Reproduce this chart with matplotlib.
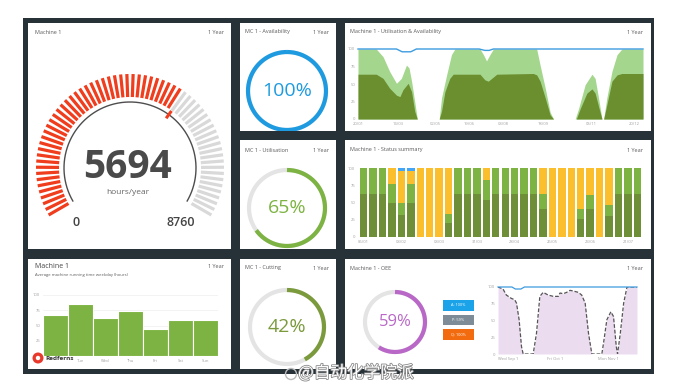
import numpy as np
import matplotlib.pyplot as plt
from matplotlib.patches import Rectangle, Circle
import matplotlib.patheffects as pe

plt.rcParams['font.family'] = ['Open Sans', 'DejaVu Sans']

W, H = 690, 389

# ---- data ----
gauge_value, gauge_max = 5694, 8760
availability, utilisation, cutting, oee = 100, 65, 42, 59

# utilisation & availability over the year (position 0-100, percent)
ua_avail_x = [0, 6.4, 8.8, 11.1, 13.5, 15.2, 17.0, 17.9, 18.8, 19.9, 20.8, 28.5, 29.3, 31.1, 32.8, 34.0,
              42.8, 44.0, 45.1, 46.3, 47.5, 62.7, 63.9, 65.7, 67.4, 68.6, 76.2, 77.4, 79.7, 82.1, 83.2,
              84.4, 85.6, 86.2, 87.3, 89.1, 90.9, 92.6, 100]
ua_avail_y = [100, 100, 89, 68, 51, 58, 77, 73, 54, 25, 0, 0, 30, 63, 92, 100,
              100, 92, 83, 92, 100, 100, 77, 44, 10, 0, 0, 15, 49, 64, 58,
              30, 0, 0, 30, 68, 92, 100, 100]
ua_util_x = [0, 6.4, 8.8, 11.1, 13.5, 14.7, 15.8, 17.6, 18.8, 19.9, 20.8, 28.5, 29.3, 30.5, 32.2, 33.4,
             42.8, 44.5, 45.7, 46.9, 48.7, 61.5, 62.7, 63.9, 65.7, 67.4, 68.6, 76.6, 78.0, 80.3, 82.1,
             83.2, 84.4, 85.6, 86.2, 87.3, 89.1, 90.9, 92.6, 100]
ua_util_y = [64, 64, 58, 44, 34, 32, 42, 51, 39, 11, 0, 0, 11, 39, 58, 64,
             64, 56, 54, 58, 64, 65, 63, 54, 30, 6, 0, 0, 15, 37, 43,
             37, 18, 0, 0, 20, 54, 63, 65, 65]
ua_line_x = [0, 13.5, 15.5, 18.5, 20.5, 42.5, 44.5, 46.0, 47.5, 100]
ua_line_y = [100, 100, 96, 96, 100, 100, 98, 98, 100, 100]
ua_ticks = [0, 14, 27, 39, 51, 65, 82, 97]
ua_labels = ['20/01', '14/03', '02/05', '19/06', '03/08', '18/09', '05/11', '20/12']

# status summary, 30 periods (percent of time)
st_running = [62, 62, 62, 50, 32, 50, 0, 0, 0, 21, 62, 62, 62, 54, 62, 62, 62, 62, 62, 40,
              0, 0, 0, 26, 40, 0, 31, 62, 62, 62]
st_idle = [38, 38, 38, 27, 17, 27, 0, 0, 0, 12, 38, 38, 38, 29, 38, 38, 38, 38, 38, 23,
           0, 0, 0, 15, 21, 0, 16, 38, 38, 38]
st_stopped = [0, 0, 0, 23, 47, 19, 100, 100, 100, 67, 0, 0, 0, 17, 0, 0, 0, 0, 0, 37,
              100, 100, 100, 59, 39, 100, 53, 0, 0, 0]
st_offline = [0, 0, 0, 0, 4, 4, 0, 0, 0, 0, 0, 0, 0, 0, 0, 0, 0, 0, 0, 0,
              0, 0, 0, 0, 0, 0, 0, 0, 0, 0]
st_ticks = [0, 4, 8, 12, 16, 20, 24, 28]
st_labels = ['06/01', '03/02', '03/03', '31/03', '28/04', '26/05', '23/06', '21/07']

# average running time per weekday (first label sits under the logo)
days = ['', 'Tue', 'Wed', 'Thu', 'Fri', 'Sat', 'Sun']
day_running = [68, 85, 62, 73, 45, 59, 59]

# OEE trend
oee_x = [0, 3.6, 6.0, 9.6, 12.0, 13.3, 15.2, 16.9, 18.1, 25.3, 27.7, 30.1, 32.5, 36.1, 39.8, 43.4,
         44.6, 47.0, 49.4, 51.8, 54.2, 57.8, 60.2, 62.7, 65.1, 67.5, 74.7, 75.9, 78.3, 81.2, 83.1,
         85.1, 86.0, 88.0, 90.4, 92.8, 100]
oee_y = [100, 97, 88, 83, 81, 76, 51, 11, 0, 0, 31, 86, 92, 88, 86, 86,
         91, 90, 92, 95, 94, 92, 88, 76, 31, 0, 0, 16, 51, 63, 56,
         11, 0, 31, 76, 100, 100]
oee_line_x = [0, 10, 12.5, 16.5, 19, 100]
oee_line_y = [100, 100, 97, 97, 100, 100]
oee_ticks = [0, 35, 72]
oee_labels = ['Wed Sep 1', 'Fri Oct 1', 'Mon Nov 1']
oee_parts = ['A: 100%', 'P: 59%', 'Q: 100%']

pct_ticks = [0, 25, 50, 75, 100]

FRAME = '#263238'
TITLE = '#5a5a5a'
TICK = '#a0a0a0'

fig = plt.figure(figsize=(6.9, 3.89), dpi=100)
fig.patch.set_facecolor('white')


def rect(x0, y0, x1, y1):
    return [x0 / W, 1 - y1 / H, (x1 - x0) / W, (y1 - y0) / H]


def box(x0, y0, x1, y1, color):
    fig.patches.append(Rectangle((x0 / W, 1 - y1 / H), (x1 - x0) / W, (y1 - y0) / H,
                                 transform=fig.transFigure, facecolor=color,
                                 edgecolor='none', zorder=-5))


def ftext(x, y, s, **kw):
    fig.text(x / W, 1 - y / H, s, **kw)


def pixel_ax(x0, y0, x1, y1):
    ax = fig.add_axes(rect(x0, y0, x1, y1))
    ax.set_xlim(x0, x1)
    ax.set_ylim(y1, y0)
    ax.axis('off')
    return ax


def chart_ax(x0, y0, x1, y1):
    ax = fig.add_axes(rect(x0, y0, x1, y1))
    ax.set_facecolor('none')
    for s in ax.spines.values():
        s.set_visible(False)
    ax.tick_params(length=0, labelsize=3, colors=TICK, pad=2)
    return ax


def ring(ax, cx, cy, r, frac, color, lw=3.0):
    t = np.linspace(0, 2 * np.pi, 300)
    ax.plot(cx + r * np.cos(t), cy - r * np.sin(t), color='#e4e4e4', lw=lw, solid_capstyle='butt')
    t = np.linspace(np.pi / 2, np.pi / 2 - 2 * np.pi * frac, 300)
    ax.plot(cx + r * np.cos(t), cy - r * np.sin(t), color=color, lw=lw, solid_capstyle='butt')


# dark frame and panels
box(23, 18, 654, 374, FRAME)
panels = {
    'gauge': (28, 23, 231, 249),
    'avail': (240, 23, 336, 131),
    'util': (240, 140, 336, 249),
    'ua': (345, 23, 651, 131),
    'status': (345, 140, 651, 249),
    'week': (28, 259, 231, 369),
    'cut': (240, 259, 336, 369),
    'oee': (345, 259, 651, 369),
}
for p in panels.values():
    box(*p, 'white')

titles = [
    (35, 32, 224, 'Machine 1'),
    (245, 32, 329, 'MC 1 - Availability'),
    (245, 150, 329, 'MC 1 - Utilisation'),
    (350, 32, 643, 'Machine 1 - Utilisation & Availability'),
    (350, 150, 643, 'Machine 1 - Status summary'),
    (245, 268, 329, 'MC 1 - Cutting'),
    (350, 268, 643, 'Machine 1 - OEE'),
]
for x, y, xr, s in titles:
    ftext(x, y, s, fontsize=4, color=TITLE, va='center', ha='left')
    ftext(xr, y, '1 Year', fontsize=4, color=TITLE, va='center', ha='right')
ftext(35, 267, 'Machine 1', fontsize=5, color='#444444', va='center', ha='left')
ftext(35, 275, 'Average machine running time weekday (hours)', fontsize=3, color=TITLE,
      va='center', ha='left')
ftext(224, 267, '1 Year', fontsize=4, color=TITLE, va='center', ha='right')

# gauge
ax = pixel_ax(*panels['gauge'])
cx, cy = 130, 168
frac = gauge_value / gauge_max
n_ticks = 64
for i in range(n_ticks):
    f = i / (n_ticks - 1)
    a = np.radians(210 - 240 * f)
    col = '#ef3d1e' if f <= frac else '#d9d9d9'
    ax.plot([cx + 71 * np.cos(a), cx + 94 * np.cos(a)],
            [cy - 71 * np.sin(a), cy - 94 * np.sin(a)], color=col, lw=2.3, solid_capstyle='butt')
t = np.radians(np.linspace(210, -30, 300))
ax.plot(cx + 66 * np.cos(t), cy - 66 * np.sin(t), color='#4d4d4d', lw=1.0)
a = np.radians(210 - 240 * frac)
ax.plot([cx + 63 * np.cos(a), cx + 69 * np.cos(a)], [cy - 63 * np.sin(a), cy - 69 * np.sin(a)],
        color='#ef3d1e', lw=2.2)
ax.text(128, 168, f'{gauge_value}', fontsize=28, fontweight='bold', color='#4a4a4a',
        ha='center', va='center')
ax.text(128, 192, 'hours/year', fontsize=6, color='#666666', ha='center', va='center')
ax.text(76, 222, '0', fontsize=9, fontweight='semibold', color='#444444', ha='center', va='center')
ax.text(181, 222, f'{gauge_max}', fontsize=9, fontweight='semibold', color='#444444',
        ha='center', va='center')

# availability / utilisation / cutting rings
ax = pixel_ax(*panels['avail'])
ring(ax, 287, 91, 39, availability / 100, '#1e9be0')
ax.text(287, 91, f'{availability}%', fontsize=14, color='#1e9be0', ha='center', va='center')

ax = pixel_ax(*panels['util'])
ring(ax, 287, 208, 38, utilisation / 100, '#7cb342')
ax.text(287, 208, f'{utilisation}%', fontsize=14, color='#7cb342', ha='center', va='center')

ax = pixel_ax(*panels['cut'])
ring(ax, 287, 327, 37, cutting / 100, '#7a9a3c')
ax.text(287, 327, f'{cutting}%', fontsize=14, color='#7a9a3c', ha='center', va='center')

# utilisation & availability chart
ax = chart_ax(358, 49, 643, 119)
ax.fill_between(ua_avail_x, 0, ua_avail_y, color='#a5d68e', lw=0)
ax.fill_between(ua_util_x, 0, ua_util_y, color='#6b8e2f', lw=0)
ax.plot(ua_line_x, ua_line_y, color='#3d9be0', lw=1.0, clip_on=False)
ax.set_xlim(0, 100)
ax.set_ylim(0, 100)
ax.set_yticks(pct_ticks)
ax.set_xticks(ua_ticks)
ax.set_xticklabels(ua_labels)

# status summary
ax = chart_ax(358, 168, 643, 237)
idx = np.arange(len(st_running))
b1 = np.array(st_running)
b2 = b1 + np.array(st_idle)
b3 = b2 + np.array(st_stopped)
ax.bar(idx, st_running, 0.78, color='#6e8f37')
ax.bar(idx, st_idle, 0.78, bottom=b1, color='#7cb342')
ax.bar(idx, st_stopped, 0.78, bottom=b2, color='#fbbf2e')
ax.bar(idx, st_offline, 0.78, bottom=b3, color='#42a5f5')
ax.set_xlim(-0.6, 29.6)
ax.set_ylim(0, 100)
ax.set_yticks(pct_ticks)
ax.set_xticks(st_ticks)
ax.set_xticklabels(st_labels)

# weekday running time
ax = chart_ax(43, 295, 218, 356)
ax.bar(np.arange(len(days)), day_running, 1.0, color='#7cb342', edgecolor='white', lw=0.8)
ax.set_xlim(-0.5, 6.5)
ax.set_ylim(0, 100)
ax.set_yticks(pct_ticks)
ax.set_xticks(np.arange(len(days)))
ax.set_xticklabels(days)
ax.grid(axis='y', color='#eeeeee', lw=0.5)
ax.set_axisbelow(True)

# OEE
ax = pixel_ax(*panels['oee'])
ring(ax, 395, 322, 30, oee / 100, '#b968c7')
ax.text(395, 322, f'{oee}%', fontsize=12, color='#b968c7', ha='center', va='center')
for (y0, y1), col, s in zip([(300, 311), (315, 325), (329, 340)],
                            ['#1aa3e8', '#7d8c96', '#f26b0f'], oee_parts):
    ax.add_patch(Rectangle((443, y0), 31, y1 - y0, facecolor=col, edgecolor='none'))
    ax.text(458.5, (y0 + y1) / 2, s, fontsize=2.8, color='white', ha='center', va='center')

ax = chart_ax(498, 287, 637, 354)
ax.fill_between(oee_x, 0, oee_y, color='#ecdcf0', lw=0)
ax.plot(oee_x, oee_y, color='#555555', lw=0.9, ls=(0, (3, 1.5)))
ax.plot(oee_line_x, oee_line_y, color='#3d9be0', lw=0.9, clip_on=False)
ax.set_xlim(0, 100)
ax.set_ylim(0, 100)
ax.set_yticks(pct_ticks)
ax.set_xticks(oee_ticks)
ax.set_xticklabels(oee_labels, ha='left')

# logo and watermark overlay
ov = fig.add_axes([0, 0, 1, 1], zorder=10)
ov.set_xlim(0, W)
ov.set_ylim(H, 0)
ov.axis('off')
ov.add_patch(Circle((38, 358), 5.5, facecolor='#e8392b', edgecolor='none'))
ov.add_patch(Circle((38, 358), 2.2, facecolor='white', edgecolor='none'))
ov.text(45, 358, 'Redferns', fontsize=4.6, color='#333333', ha='left', va='center', fontweight='bold')
ov.add_patch(Circle((291, 374), 5.5, facecolor='none', edgecolor='#bbbbbb', lw=1.0))
ov.text(298, 373, '@自动化学院派', fontsize=12, color='white', ha='left', va='center',
        family=['Noto Sans CJK SC', 'DejaVu Sans'],
        path_effects=[pe.withStroke(linewidth=1.2, foreground='#8a8a8a')])

fig.savefig('out.png', dpi=100)
